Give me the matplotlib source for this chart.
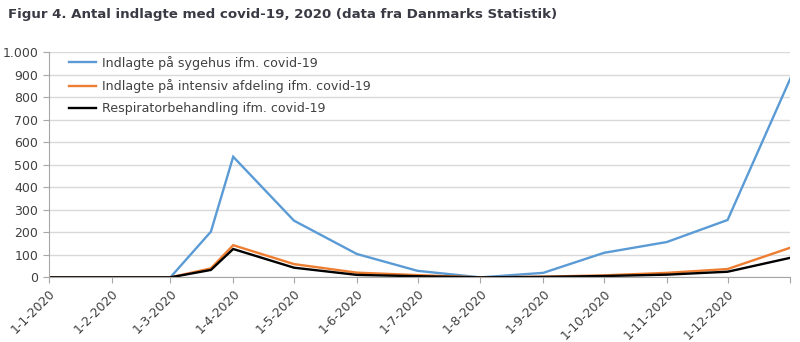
import numpy as np
import pandas as pd
import matplotlib
matplotlib.use("Agg")
import matplotlib.pyplot as plt
from matplotlib.ticker import FuncFormatter

# data
dates = ["2020-01-01", "2020-02-01", "2020-03-01", "2020-03-21", "2020-04-01",
         "2020-05-01", "2020-06-01", "2020-07-01", "2020-08-01", "2020-09-01",
         "2020-10-01", "2020-11-01", "2020-12-01", "2021-01-01"]
sygehus = [0, 0, 0, 203, 536, 252, 104, 29, 0, 20, 109, 157, 255, 884]
intensiv = [0, 0, 0, 40, 143, 59, 21, 10, 0, 3, 9, 20, 37, 132]
respirator = [0, 0, 0, 33, 126, 43, 11, 5, 0, 2, 6, 12, 25, 87]
labels = ["Indlagte på sygehus ifm. covid-19",
          "Indlagte på intensiv afdeling ifm. covid-19",
          "Respiratorbehandling ifm. covid-19"]
colors = ["#5B9BD5", "#ED7D31", "#000000"]

x = pd.to_datetime(dates)
txt = "#404040"
plt.rcParams['font.family'] = ['DejaVu Sans']

fig = plt.figure(figsize=(8, 3.42), dpi=100)
ax = fig.add_axes([0.061, 0.189, 0.927, 0.658])

for y, lab, c in zip([sygehus, intensiv, respirator], labels, colors):
    ax.plot(x, y, color=c, lw=1.7, label=lab, solid_joinstyle="miter")

ax.set_ylim(0, 1000)
ax.set_yticks(np.arange(0, 1001, 100))
ax.yaxis.set_major_formatter(FuncFormatter(lambda v, p: f"{int(v):,}".replace(",", ".")))
ax.set_xlim(x[0], x[-1])
ticks = pd.date_range("2020-01-01", "2021-01-01", freq="MS")
ax.set_xticks(ticks)
# last tick (1-1-2021) has no label in the original
ax.set_xticklabels([f"{d.day}-{d.month}-{d.year}" if d.year == 2020 else "" for d in ticks],
                   rotation=45, ha="right", rotation_mode="anchor")

ax.grid(axis="y", color="#d9d9d9", lw=1)
ax.set_axisbelow(True)
for s in ["top", "right"]:
    ax.spines[s].set_visible(False)
for s in ["left", "bottom"]:
    ax.spines[s].set_color("#a6a6a6")
ax.tick_params(axis="both", colors="#a6a6a6", labelcolor=txt, labelsize=9, length=4)
ax.tick_params(axis="x", pad=3)

ax.legend(loc="upper left", bbox_to_anchor=(0.012, 1.035), frameon=False, fontsize=9.1,
          handlelength=2.1, handletextpad=0.5, labelspacing=0.74, labelcolor=txt)

fig.text(0.01, 0.958, "Figur 4. Antal indlagte med covid-19, 2020 (data fra Danmarks Statistik)",
         fontsize=9.6, fontweight="bold", color="#3a3a45", va="center")

fig.savefig("out.png", dpi=100)
